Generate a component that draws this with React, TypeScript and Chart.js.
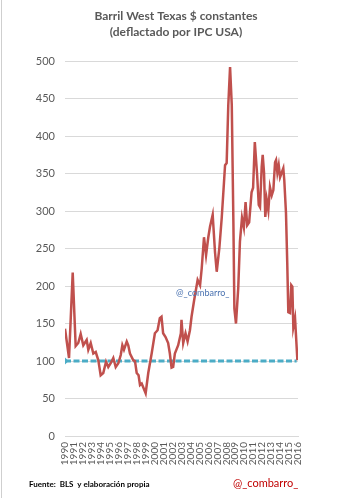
import React, { useEffect, useRef } from "react";
import { Chart, registerables } from "chart.js";

Chart.register(...registerables);

const TITLE_LINES = ["Barril West Texas $ constantes", "(deflactado por IPC USA)"];
const WATERMARK = "@_combarro_";
const SOURCE_NOTE = "Fuente:  BLS  y elaboración propia";
const AUTHOR = "@_combarro_";

const YEAR_TICKS = [
  1990, 1991, 1992, 1993, 1994, 1995, 1996, 1997, 1998, 1999, 2000, 2001, 2002,
  2003, 2004, 2005, 2006, 2007, 2008, 2009, 2010, 2011, 2012, 2013, 2014, 2015, 2016,
];
const Y_TICKS = [0, 50, 100, 150, 200, 250, 300, 350, 400, 450, 500];

// time (decimal years) and price in constant dollars
const WTI_TIME = [
  1990.0, 1990.45, 1990.86, 1991.19, 1991.48, 1991.75, 1992.04, 1992.42, 1992.6, 1992.87,
  1993.16, 1993.43, 1993.72, 1993.98, 1994.27, 1994.58, 1994.83, 1995.1, 1995.39, 1995.66,
  1995.95, 1996.22, 1996.4, 1996.58, 1996.89, 1997.06, 1997.25, 1997.62, 1997.81, 1998.0,
  1998.21, 1998.37, 1998.56, 1999.0, 1999.29, 1999.67, 2000.03, 2000.33, 2000.58, 2000.77,
  2000.95, 2001.22, 2001.51, 2001.7, 2001.89, 2002.07, 2002.26, 2002.63, 2002.93, 2003.0,
  2003.19, 2003.45, 2003.68, 2003.94, 2004.12, 2004.41, 2004.8, 2005.07, 2005.26, 2005.51,
  2005.74, 2005.99, 2006.18, 2006.48, 2006.74, 2006.93, 2007.22, 2007.49, 2007.74, 2007.86,
  2008.04, 2008.22, 2008.42, 2008.61, 2008.79, 2008.9, 2009.08, 2009.33, 2009.52, 2009.75,
  2009.96, 2010.15, 2010.33, 2010.55, 2010.82, 2010.99, 2011.18, 2011.44, 2011.62, 2011.76,
  2011.95, 2012.06, 2012.21, 2012.35, 2012.51, 2012.69, 2012.87, 2013.07, 2013.25, 2013.44,
  2013.55, 2013.7, 2013.85, 2014.0, 2014.18, 2014.36, 2014.47, 2014.66, 2014.8, 2014.92,
  2015.11, 2015.25, 2015.37, 2015.48, 2015.67, 2015.93,
];
const WTI_VALUES = [
  143, 104, 218, 120, 124, 136, 121, 128, 115, 124,
  110, 112, 101, 81, 84, 99, 92, 97, 104, 92,
  97, 108, 121, 115, 126, 121, 110, 101, 100, 84,
  81, 68, 70, 57, 84, 110, 137, 141, 157, 159,
  137, 132, 124, 110, 91, 92, 110, 121, 137, 155,
  124, 137, 126, 141, 159, 181, 208, 201, 224, 265,
  241, 265, 279, 295, 245, 219, 250, 291, 338, 361,
  364, 441, 492, 441, 285, 170, 150, 197, 259, 291,
  278, 312, 281, 285, 325, 331, 392, 348, 308, 305,
  359, 375, 351, 292, 315, 301, 332, 321, 328, 365,
  368, 351, 361, 345, 351, 357, 341, 297, 231, 165,
  164, 201, 199, 145, 157, 101,
];

const BASE_LEVEL = 100;
const BASE_TIME = [1990.0, 2015.85];

const FONT = "Lato, 'Liberation Sans', sans-serif";

export default function App() {
  const canvasRef = useRef<HTMLCanvasElement | null>(null);

  useEffect(() => {
    const canvas = canvasRef.current;
    if (!canvas) return;

    const textPlugin = {
      id: "texts",
      beforeDraw(chart: any) {
        const ctx = chart.ctx;
        ctx.save();
        ctx.fillStyle = "#ffffff";
        ctx.fillRect(0, 0, chart.width, chart.height);
        ctx.strokeStyle = "#cfcfcf";
        ctx.lineWidth = 1;
        ctx.beginPath();
        ctx.moveTo(1.5, 0);
        ctx.lineTo(1.5, chart.height);
        ctx.stroke();
        ctx.restore();
      },
      afterDraw(chart: any) {
        const ctx = chart.ctx;
        ctx.save();
        ctx.textBaseline = "middle";
        ctx.textAlign = "center";
        ctx.fillStyle = "#595959";
        ctx.font = `bold 12px ${FONT}`;
        ctx.fillText(TITLE_LINES[0], 176, 16);
        ctx.fillText(TITLE_LINES[1], 176, 32);

        ctx.textAlign = "left";
        ctx.fillStyle = "#4a72b0";
        ctx.font = `9px ${FONT}`;
        ctx.fillText(WATERMARK, 176, 293);

        ctx.fillStyle = "#000000";
        ctx.font = `bold 8px ${FONT}`;
        ctx.fillText(SOURCE_NOTE, 29, 484);

        ctx.fillStyle = "#c00000";
        ctx.font = `11px ${FONT}`;
        ctx.fillText(AUTHOR, 233, 483);
        ctx.restore();
      },
    };

    const chart = new Chart(canvas, {
      type: "line",
      data: {
        datasets: [
          {
            label: "WTI",
            data: WTI_TIME.map((x, i) => ({ x, y: WTI_VALUES[i] })),
            borderColor: "#c0504d",
            borderWidth: 2.5,
            pointRadius: 0,
            tension: 0,
            order: 0,
          },
          {
            label: "Base",
            data: BASE_TIME.map((x) => ({ x, y: BASE_LEVEL })),
            borderColor: "#4bacc6",
            borderWidth: 3,
            borderDash: [6, 2.5],
            pointStyle: "rectRot",
            pointRadius: [3.5, 0],
            pointBackgroundColor: "#4bacc6",
            pointBorderWidth: 0,
            order: 1,
          },
        ],
      },
      options: {
        responsive: false,
        animation: false,
        events: [],
        layout: { padding: { top: 61, left: 10, right: 54, bottom: 30 } },
        plugins: {
          legend: { display: false },
          tooltip: { enabled: false },
          title: { display: false },
        },
        scales: {
          x: {
            type: "linear",
            min: YEAR_TICKS[0],
            max: YEAR_TICKS[YEAR_TICKS.length - 1],
            afterBuildTicks: (s: any) => {
              s.ticks = YEAR_TICKS.map((v) => ({ value: v }));
            },
            afterFit: (s: any) => {
              s.height = 32;
            },
            ticks: {
              autoSkip: false,
              maxRotation: 90,
              minRotation: 90,
              padding: 6,
              color: "#595959",
              font: { size: 10, family: FONT },
              callback: (v: any) => String(v),
            },
            grid: { display: false, drawTicks: false },
            border: { display: true, color: "#d9d9d9", width: 1 },
          },
          y: {
            min: 0,
            max: 500,
            afterBuildTicks: (s: any) => {
              s.ticks = Y_TICKS.map((v) => ({ value: v }));
            },
            afterFit: (s: any) => {
              s.width = 55;
            },
            ticks: {
              padding: 10,
              color: "#595959",
              font: { size: 11, family: FONT },
            },
            grid: { color: "#d9d9d9", drawTicks: false, lineWidth: 1 },
            border: { display: false },
          },
        },
      },
      plugins: [textPlugin],
    } as any);

    return () => chart.destroy();
  }, []);

  return (
    <div style={{ position: "fixed", left: 0, top: 0, width: 352, height: 498, background: "#fff" }}>
      <canvas ref={canvasRef} width={352} height={498} style={{ display: "block", width: 352, height: 498 }} />
    </div>
  );
}
